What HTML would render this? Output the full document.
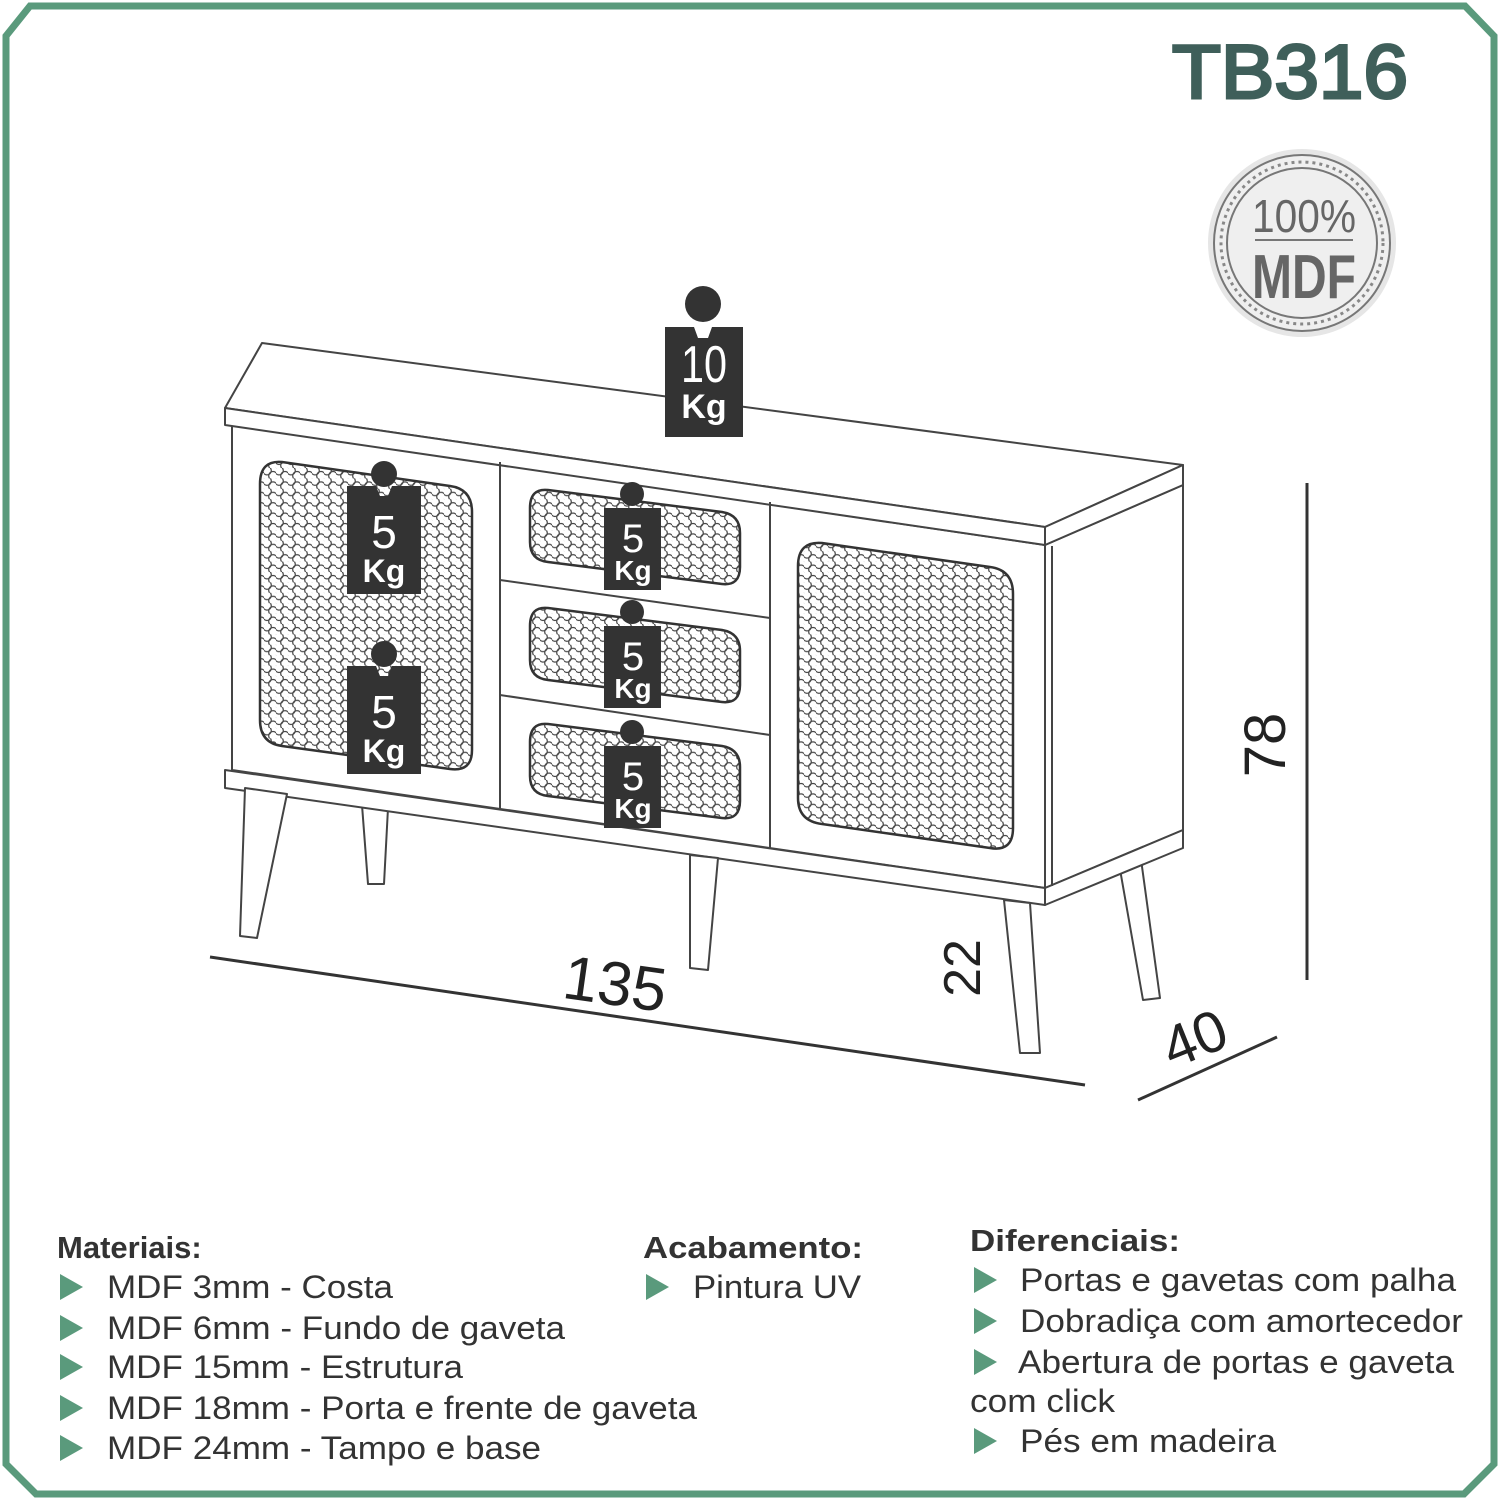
<!DOCTYPE html>
<html><head><meta charset="utf-8"><style>
html,body{margin:0;padding:0;background:#fff;}
svg{display:block;}
text{font-family:"Liberation Sans",Arial,sans-serif;}
</style></head><body>
<svg width="1500" height="1500" viewBox="0 0 1500 1500" xmlns="http://www.w3.org/2000/svg">
<defs>
<pattern id="rat" width="12" height="10.4" patternUnits="userSpaceOnUse">
<circle cx="3" cy="2.6" r="4.3" fill="none" stroke="#444" stroke-width="1.2"/>
<circle cx="9" cy="7.8" r="4.3" fill="none" stroke="#444" stroke-width="1.2"/>
</pattern>
<g id="w5"><circle cx="0" cy="-12" r="13" fill="#333"/><path d="M-37,0 H-8 L-4,10 H4 L8,0 H37 V108 H-37 Z" fill="#333"/></g>
</defs>
<rect width="1500" height="1500" fill="#fff"/>
<polygon points="30,6 1465,6 1494,36 1494,1464 1464,1494 36,1494 6,1464 6,36" fill="none" stroke="#5a9a7c" stroke-width="7"/>
<text x="1290" y="98" font-size="76" fill="#3f5f5a" stroke="#3f5f5a" stroke-width="3" text-anchor="middle" textLength="236" lengthAdjust="spacingAndGlyphs">TB316</text>
<circle cx="1302" cy="243" r="94" fill="#e6e6e6"/>
<circle cx="1302" cy="243" r="88" fill="#efefef" stroke="#777" stroke-width="2"/>
<circle cx="1302" cy="243" r="81" fill="none" stroke="#888" stroke-width="3" stroke-dasharray="3 4"/>
<circle cx="1302" cy="243" r="75" fill="none" stroke="#777" stroke-width="2"/>
<text x="1304" y="232" font-size="46" fill="#666" text-anchor="middle" textLength="104" lengthAdjust="spacingAndGlyphs">100%</text>
<line x1="1255" y1="240" x2="1353" y2="240" stroke="#777" stroke-width="2"/>
<text x="1304" y="298" font-size="62" font-weight="bold" fill="#666" text-anchor="middle" textLength="104" lengthAdjust="spacingAndGlyphs">MDF</text>

<g fill="#fff" stroke="#444" stroke-width="2" stroke-linejoin="round">
<polygon points="362,805 388,808 384,884 368,884"/>
<polygon points="1118,858 1140,852 1160,998 1143,1000"/>
<polygon points="232,425 1045,545 1045,888 232,770"/>
<polygon points="1045,545 1183,485 1183,830 1045,888"/>
<polygon points="225,408 262,343 1183,465 1045,527"/>
<polygon points="225,408 1045,527 1045,545 225,425"/>
<polygon points="1045,527 1183,465 1183,485 1045,545"/>
<polygon points="225,770 1045,888 1045,905 225,788"/>
<polygon points="1045,888 1183,830 1183,848 1045,905"/>
<polygon points="245,788 287,794 257,938 240,936"/>
<polygon points="690,855 718,858 708,970 690,968"/>
<polygon points="1004,900 1030,903 1040,1053 1020,1053"/>
</g>
<g stroke="#444" stroke-width="2" fill="none">
<line x1="500" y1="462" x2="500" y2="808"/>
<line x1="770" y1="502" x2="770" y2="848"/>
<line x1="500" y1="580" x2="770" y2="618"/>
<line x1="500" y1="695" x2="770" y2="735"/>
<line x1="1052" y1="546" x2="1052" y2="886"/>
</g>
<g stroke="#333" stroke-width="2.5" fill="url(#rat)">
<path d="M282,462 L450,486 Q472,489 472,512 L472,750 Q472,772 450,769 L282,746 Q260,743 260,720 L260,484 Q260,460 282,462Z"/>
<path d="M822,543 L990,567 Q1013,570 1013,594 L1013,828 Q1013,852 990,848 L822,824 Q798,821 798,798 L798,566 Q798,541 822,543Z"/>
<path d="M548,490 L722,512 Q740,515 740,533 L740,567 Q740,586 722,584 L548,562 Q530,560 530,542 L530,508 Q530,488 548,490Z"/>
<path d="M548,608 L722,630 Q740,633 740,651 L740,685 Q740,704 722,702 L548,680 Q530,678 530,660 L530,626 Q530,606 548,608Z"/>
<path d="M548,724 L722,746 Q740,749 740,767 L740,801 Q740,820 722,818 L548,796 Q530,794 530,776 L530,742 Q530,722 548,724Z"/>
</g>
<g>
<circle cx="703" cy="304" r="18" fill="#333"/>
<path d="M665,327 H694 L698,338 H708 L712,327 H743 V437 H665 Z" fill="#333"/>
<text x="704" y="382" font-size="52" fill="#fff" text-anchor="middle" textLength="46" lengthAdjust="spacingAndGlyphs">10</text>
<text x="704" y="418" font-size="34" font-weight="bold" fill="#fff" text-anchor="middle">Kg</text>
</g>
<use href="#w5" x="384" y="486"/>
<text x="384" y="548" font-size="46" fill="#fff" text-anchor="middle">5</text>
<text x="384" y="582" font-size="32" font-weight="bold" fill="#fff" text-anchor="middle">Kg</text>
<use href="#w5" x="384" y="666"/>
<text x="384" y="728" font-size="46" fill="#fff" text-anchor="middle">5</text>
<text x="384" y="762" font-size="32" font-weight="bold" fill="#fff" text-anchor="middle">Kg</text>
<g>
<circle cx="632" cy="494" r="12" fill="#333"/><rect x="604" y="508" width="57" height="82" fill="#333"/>
<text x="633" y="552" font-size="40" fill="#fff" text-anchor="middle">5</text>
<text x="633" y="580" font-size="28" font-weight="bold" fill="#fff" text-anchor="middle">Kg</text>
<circle cx="632" cy="612" r="12" fill="#333"/><rect x="604" y="626" width="57" height="82" fill="#333"/>
<text x="633" y="670" font-size="40" fill="#fff" text-anchor="middle">5</text>
<text x="633" y="698" font-size="28" font-weight="bold" fill="#fff" text-anchor="middle">Kg</text>
<circle cx="632" cy="732" r="12" fill="#333"/><rect x="604" y="746" width="57" height="82" fill="#333"/>
<text x="633" y="790" font-size="40" fill="#fff" text-anchor="middle">5</text>
<text x="633" y="818" font-size="28" font-weight="bold" fill="#fff" text-anchor="middle">Kg</text>
</g>
<g stroke="#333" stroke-width="3">
<line x1="210" y1="957" x2="1085" y2="1085"/>
<line x1="1307" y1="483" x2="1307" y2="980"/>
<line x1="1138" y1="1100" x2="1277" y2="1037"/>
</g>
<text x="615" y="1005" font-size="62" fill="#222" text-anchor="middle" transform="rotate(8 615 985)">135</text>
<text x="0" y="0" font-size="52" fill="#222" text-anchor="middle" transform="translate(980 968) rotate(-90)">22</text>
<text x="0" y="0" font-size="58" fill="#222" text-anchor="middle" transform="translate(1285 745) rotate(-90)">78</text>
<text x="0" y="0" font-size="58" fill="#222" text-anchor="middle" transform="translate(1202 1057) rotate(-22)">40</text>

<g font-size="32" fill="#333">
<text x="57" y="1258" font-weight="bold" font-size="31">Materiais:</text>
<text x="107" y="1298" textLength="286" lengthAdjust="spacingAndGlyphs">MDF 3mm - Costa</text>
<text x="107" y="1339" textLength="458" lengthAdjust="spacingAndGlyphs">MDF 6mm - Fundo de gaveta</text>
<text x="107" y="1378" textLength="356" lengthAdjust="spacingAndGlyphs">MDF 15mm - Estrutura</text>
<text x="107" y="1419" textLength="590" lengthAdjust="spacingAndGlyphs">MDF 18mm - Porta e frente de gaveta</text>
<text x="107" y="1459" textLength="434" lengthAdjust="spacingAndGlyphs">MDF 24mm - Tampo e base</text>
<text x="643" y="1258" font-weight="bold" font-size="31" textLength="220" lengthAdjust="spacingAndGlyphs">Acabamento:</text>
<text x="693" y="1298" textLength="168" lengthAdjust="spacingAndGlyphs">Pintura UV</text>
<text x="970" y="1251" font-weight="bold" font-size="31" textLength="210" lengthAdjust="spacingAndGlyphs">Diferenciais:</text>
<text x="1020" y="1291" textLength="436" lengthAdjust="spacingAndGlyphs">Portas e gavetas com palha</text>
<text x="1020" y="1332" textLength="443" lengthAdjust="spacingAndGlyphs">Dobradiça com amortecedor</text>
<text x="1018" y="1373" textLength="436" lengthAdjust="spacingAndGlyphs">Abertura de portas e gaveta</text>
<text x="970" y="1412" textLength="145" lengthAdjust="spacingAndGlyphs">com click</text>
<text x="1020" y="1452" textLength="256" lengthAdjust="spacingAndGlyphs">Pés em madeira</text>
</g>
<g fill="#5a9a7c">
<polygon points="60,1274 60,1300 83,1287"/>
<polygon points="60,1315 60,1341 83,1328"/>
<polygon points="60,1354 60,1380 83,1367"/>
<polygon points="60,1395 60,1421 83,1408"/>
<polygon points="60,1435 60,1461 83,1448"/>
<polygon points="646,1274 646,1300 669,1287"/>
<polygon points="974,1267 974,1293 997,1280"/>
<polygon points="974,1308 974,1334 997,1321"/>
<polygon points="974,1349 974,1375 997,1362"/>
<polygon points="974,1428 974,1454 997,1441"/>
</g>
</svg>
</body></html>
